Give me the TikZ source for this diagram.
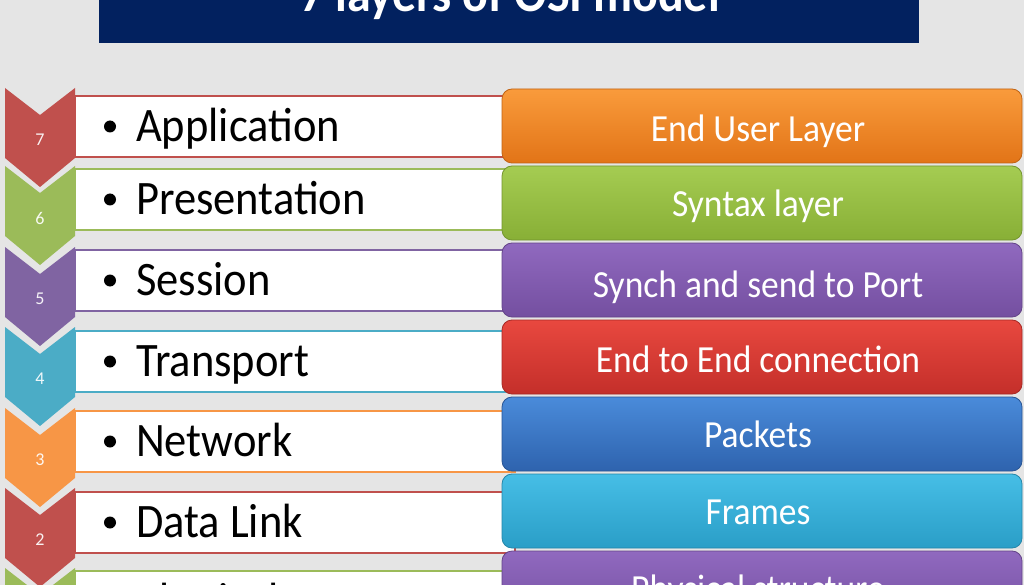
\documentclass[tikz,border=0pt]{standalone}
\usepackage{fontspec}
\setmainfont{Carlito}
\definecolor{bg}{HTML}{E5E5E5}
\definecolor{navy}{HTML}{02215F}
\definecolor{cRed}{HTML}{C0504D}
\definecolor{cGreen}{HTML}{9BBB59}
\definecolor{cPurple}{HTML}{8064A2}
\definecolor{cCyan}{HTML}{4BACC6}
\definecolor{cOrange}{HTML}{F79646}
\definecolor{oT}{HTML}{F99B3C}\definecolor{oB}{HTML}{E27417}
\definecolor{gT}{HTML}{A5CC52}\definecolor{gB}{HTML}{88AF36}
\definecolor{pT}{HTML}{9069BF}\definecolor{pB}{HTML}{744FA0}
\definecolor{rT}{HTML}{E8483F}\definecolor{rB}{HTML}{C42F2A}
\definecolor{bT}{HTML}{4A8BDA}\definecolor{bB}{HTML}{2E63AE}
\definecolor{yT}{HTML}{46BEE6}\definecolor{yB}{HTML}{2A9EC7}
\begin{document}
\begin{tikzpicture}[x=1pt,y=-1pt,
  rowtext/.style={anchor=base west, font=\fontsize{44.5}{50}\selectfont, text=black, inner sep=0pt},
  boxtext/.style={anchor=base, font=\fontsize{35.5}{40}\selectfont, text=white, inner sep=0pt},
  numtext/.style={font=\fontsize{18}{20}\selectfont, text=white, text opacity=0.92, inner sep=0pt},
  rowbox/.style={fill=white, draw=#1, line width=2.5pt},
  descbox/.style={rounded corners=10pt},
  bulletdot/.style={circle, fill=black, inner sep=0pt, minimum size=12pt},
]
\clip (0,0) rectangle (1024,585);
\fill[bg] (0,0) rectangle (1024,585);
\fill[navy] (99,-10) rectangle (919,43);
\node[anchor=base, font=\bfseries\fontsize{48}{54}\selectfont, text=white, inner sep=0pt] (title) at (510,12) {\scalebox{1}[1.08]{7 layers of OSI model}};
\foreach \n/\rt/\ct/\c/\t in {7/96/88/cRed/Application,6/169/166/cGreen/Presentation,5/250/247/cPurple/Session,4/331/327/cCyan/Transport,3/411/408/cOrange/Network,2/492/488/cRed/Data Link,1/571/568/cGreen/Physical}{
  \fill[\c] (5,\ct) -- (40,\ct+27) -- (75,\ct) -- (75,\ct+70) -- (40,\ct+99) -- (5,\ct+70) -- cycle;
  \draw[rowbox=\c] (75,\rt) rectangle (515,\rt+61);
  \node[bulletdot] (dot\n) at (110,\rt+30.5) {};
  \node[rowtext] (row\n) at (136,\rt+45.5) {\scalebox{1}[1.08]{\t}};
  \node[numtext] (num\n) at (40,\ct+52) {\n};
}
\foreach \i/\ca/\cb/\t/\o in {0/oT/oB/End User Layer/53,1/gT/gB/Syntax layer/51,2/pT/pB/Synch and send to Port/54,3/rT/rB/End to End connection/52,4/bT/bB/Packets/50,5/yT/yB/Frames/50,6/pT/pB/Physical structure/50}{
  \shade[descbox, top color=\ca, bottom color=\cb] (502,89+77*\i) rectangle (1022,163+77*\i);
  \draw[descbox, draw=\cb!85!black, line width=0.8pt] (502,89+77*\i) rectangle (1022,163+77*\i);
  \node[boxtext] (desc\i) at (758,89+77*\i+\o) {\scalebox{1}[1.08]{\t}};
}
\end{tikzpicture}
\end{document}
